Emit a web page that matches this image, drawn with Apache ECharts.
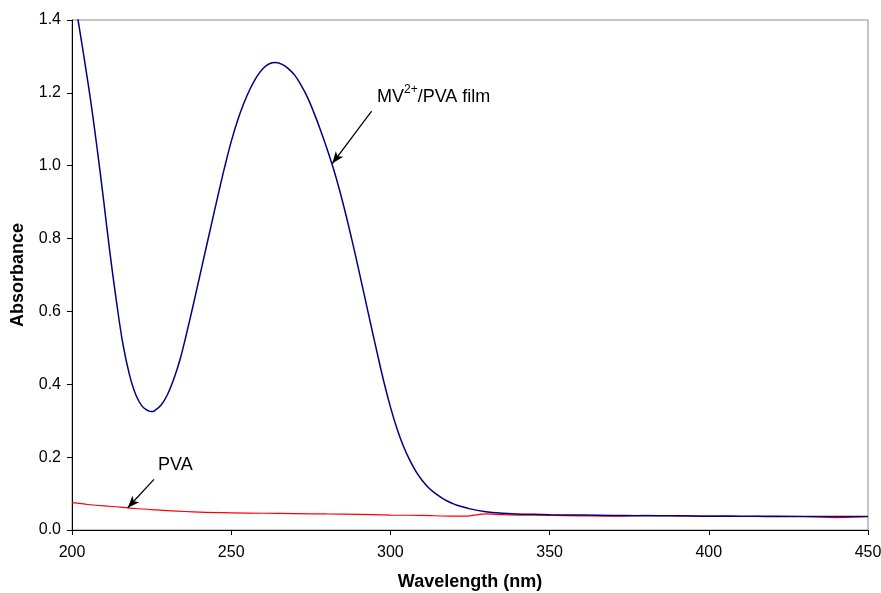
<!DOCTYPE html>
<html><head><meta charset="utf-8">
<script src="https://cdn.jsdelivr.net/npm/echarts@6/dist/echarts.min.js"></script>
<style>html,body{margin:0;padding:0;background:#fff}#c{width:881px;height:593px}</style>
</head><body><div id="c"></div>
<script>
// Wavelength (nm) and absorbance values for MV2+/PVA film
const mvWavelength = [200,202,204,206,208,210,212,214,216,218,220,222,224,225,226,228,230,232,234,236,238,240,242,244,246,248,250,252,254,256,258,260,262,264,266,268,270,272,274,276,278,280,282,284,286,288,290,292,294,296,298,300,302,304,306,308,310,312,314,316,318,320,322,325,330,335,340,345,350,360,370,380,390,400,410,420,430,440,450];
const mvAbsorbance = [1.50,1.395,1.285,1.17,1.04,0.90,0.755,0.625,0.51,0.428,0.372,0.34,0.327,0.325,0.328,0.343,0.372,0.415,0.47,0.54,0.615,0.692,0.77,0.847,0.924,0.998,1.066,1.124,1.172,1.212,1.244,1.267,1.28,1.283,1.278,1.266,1.248,1.22,1.187,1.145,1.099,1.049,0.995,0.934,0.866,0.793,0.716,0.637,0.558,0.48,0.405,0.338,0.28,0.232,0.193,0.161,0.136,0.116,0.101,0.089,0.079,0.071,0.065,0.058,0.05,0.046,0.044,0.043,0.042,0.041,0.040,0.039,0.039,0.038,0.038,0.037,0.037,0.037,0.037];
// PVA film
const pvaWavelength = [200,205,210,215,220,225,230,240,250,260,270,280,290,300,310,320,325,330,335,340,350,360,370,380,390,400,405,410,420,430,440,445,450];
const pvaAbsorbance = [0.075,0.070,0.066,0.063,0.059,0.056,0.053,0.049,0.047,0.046,0.045,0.044,0.043,0.041,0.040,0.038,0.039,0.044,0.042,0.041,0.040,0.039,0.038,0.040,0.039,0.038,0.039,0.037,0.038,0.037,0.034,0.035,0.037];
// Annotation arrows (data coordinates: start, end)
const mvArrow = [[294.1,1.150],[281.75,1.006]];
const pvaArrow = [[225.75,0.139],[217.5,0.061]];

const chart = echarts.init(document.getElementById('c'));
const zip = (a,b)=>a.map((x,i)=>[x,b[i]]);
const font = 'Arial, "Liberation Sans", sans-serif';
chart.setOption({
  animation:false,
  grid:{left:72,right:13,top:20,bottom:63,show:true,borderColor:'#8c8c8c',borderWidth:1,containLabel:false,outerBoundsMode:'none'},
  xAxis:{type:'value',min:200,max:450,interval:50,
    name:'Wavelength (nm)',nameLocation:'middle',nameGap:43,
    nameTextStyle:{fontFamily:font,fontSize:18,fontWeight:'bold',color:'#000'},
    axisLine:{show:true,lineStyle:{color:'#000',width:1}},
    axisTick:{show:true,inside:false,length:5,lineStyle:{color:'#000'}},
    axisLabel:{fontFamily:font,fontSize:16,color:'#000',margin:15},
    splitLine:{show:false}},
  yAxis:{type:'value',min:0,max:1.4,interval:0.2,
    name:'Absorbance',nameLocation:'middle',nameGap:45,
    nameTextStyle:{fontFamily:font,fontSize:18,fontWeight:'bold',color:'#000'},
    axisLine:{show:true,lineStyle:{color:'#000',width:1}},
    axisTick:{show:true,inside:false,length:5,lineStyle:{color:'#000'}},
    axisLabel:{fontFamily:font,fontSize:16,color:'#000',margin:11,formatter:v=>v.toFixed(1)},
    splitLine:{show:false}},
  series:[
    {type:'line',data:zip(pvaWavelength,pvaAbsorbance),showSymbol:false,smooth:0.3,clip:true,
      lineStyle:{color:'#ff0000',width:1.2}},
    {type:'line',data:zip(mvWavelength,mvAbsorbance),showSymbol:false,smooth:0.4,clip:true,
      lineStyle:{color:'#000080',width:1.5},
      markLine:{silent:true,symbol:['none','arrow'],symbolSize:[7,12],animation:false,
        lineStyle:{color:'#000',width:1.3,type:'solid'},label:{show:false},
        data:[[{coord:mvArrow[0]},{coord:mvArrow[1]}],[{coord:pvaArrow[0]},{coord:pvaArrow[1]}]]}}
  ],
  graphic:[
    {type:'text',left:377,top:84,style:{
      text:'{n|MV}{s|2+}{n|/PVA film}',
      rich:{n:{fontFamily:font,fontSize:18,fill:'#000',verticalAlign:'bottom'},
            s:{fontFamily:font,fontSize:12,fill:'#000',verticalAlign:'top',padding:[0,0,10,0]}}}},
    {type:'text',left:158,top:456,style:{text:'PVA',fontFamily:font,fontSize:18,fill:'#000'}}
  ]
});
</script></body></html>
